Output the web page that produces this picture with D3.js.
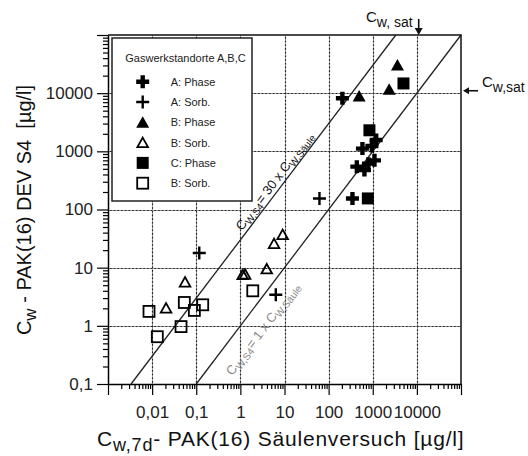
<!DOCTYPE html>
<html><head><meta charset="utf-8">
<script src="https://cdn.jsdelivr.net/npm/d3@7"></script>
<style>
body{margin:0;background:#fff;}
svg{display:block;font-family:"Liberation Sans",Arial,Helvetica,sans-serif;}
text{white-space:pre;}
</style>
</head><body><svg id="c" width="528" height="456"></svg>
<script>
// ---------- data ----------
const xTickValues = [0.01, 0.1, 1, 10, 100, 1000, 10000];
const xTickLabels = ["0,01", "0,1", "1", "10", "100", "1000", "10000"];
const yTickValues = [0.1, 1, 10, 100, 1000, 10000];
const yTickLabels = ["0,1", "1", "10", "100", "1000", "10000"];
const xGrid = [0.01, 0.1, 1, 10, 100, 1000, 10000];
const yGrid = [1, 10, 100, 1000, 10000];

const legendTitle = "Gaswerkstandorte A,B,C";
const seriesNames = ["A: Phase", "A: Sorb.", "B: Phase", "B: Sorb.", "C: Phase", "B: Sorb."];
const seriesShapes = ["crossBold", "crossThin", "triFilled", "triOpen", "sqFilled", "sqOpen"];

const aPhaseX = [205, 347, 1195, 955, 584, 1094, 798, 436, 648];
const aPhaseY = [8200, 155, 1566, 1234, 1114, 700, 614, 545, 476];
const aSorbX = [62, 0.117, 6.35];
const aSorbY = [155, 17.9, 3.42];
const bPhaseX = [492, 2355, 3630];
const bPhaseY = [8970, 11700, 30400];
const bSorbTriX = [0.0557, 0.0207, 1.13, 1.28, 3.96, 5.8, 9.1];
const bSorbTriY = [5.66, 2.02, 7.57, 7.7, 9.5, 25.9, 37];
const cPhaseX = [841, 774, 4970];
const cPhaseY = [2300, 155, 14700];
const bSorbSqX = [0.0085, 0.0537, 0.0906, 0.140, 0.0452, 0.0131, 1.91];
const bSorbSqY = [1.77, 2.52, 1.84, 2.30, 0.97, 0.65, 4.0];

const ratioFactors = [30, 1];
const cwSat = 11000;

// ---------- setup ----------
const svg = d3.select("#c");
const xs = d3.scaleLog().domain([1e-3, 1e5]).range([108, 461]);
const ys = d3.scaleLog().domain([0.1, 1e5]).range([384, 35]);

const seriesX = [aPhaseX, aSorbX, bPhaseX, bSorbTriX, cPhaseX, bSorbSqX];
const seriesY = [aPhaseY, aSorbY, bPhaseY, bSorbTriY, cPhaseY, bSorbSqY];

function drawShape(g, shape) {
  if (shape === "crossBold") {
    const a = 6.5, t = 2.2;
    g.append("path").attr("d", `M${-t},${-a}H${t}V${-t}H${a}V${t}H${t}V${a}H${-t}V${t}H${-a}V${-t}H${-t}Z`).attr("fill", "#000");
  } else if (shape === "crossThin") {
    g.append("path").attr("d", "M-6.5,0H6.5M0,-6.5V6.5").attr("stroke", "#000").attr("stroke-width", 2.4).attr("fill", "none");
  } else if (shape === "triFilled") {
    g.append("path").attr("d", "M0,-6L6.5,5.5H-6.5Z").attr("fill", "#000");
  } else if (shape === "triOpen") {
    g.append("path").attr("d", "M0,-5L5.3,4.5H-5.3Z").attr("fill", "none").attr("stroke", "#000").attr("stroke-width", 1.8);
  } else if (shape === "sqFilled") {
    g.append("rect").attr("x", -6).attr("y", -6).attr("width", 12).attr("height", 12).attr("fill", "#000");
  } else if (shape === "sqOpen") {
    g.append("rect").attr("x", -5.5).attr("y", -5.5).attr("width", 11).attr("height", 11).attr("fill", "none").attr("stroke", "#000").attr("stroke-width", 1.8);
  }
}

const [px0, px1] = xs.range();
const [py0, py1] = ys.range(); // bottom, top

// ---------- grid: faint solid base + dotted overlay ----------
const gridG = svg.append("g").attr("fill", "none");
const gxPos = xGrid.map(d => Math.round(xs(d)) + 0.5);
const gyPos = yGrid.map(d => Math.round(ys(d)) + 0.5);
gridG.selectAll("line.bx").data(gxPos).join("line").attr("class", "bx")
  .attr("x1", d => d).attr("x2", d => d).attr("y1", py0).attr("y2", py1)
  .attr("stroke", "#9a9a9a").attr("stroke-width", 1);
gridG.selectAll("line.by").data(gyPos).join("line").attr("class", "by")
  .attr("y1", d => d).attr("y2", d => d).attr("x1", px0).attr("x2", px1)
  .attr("stroke", "#9a9a9a").attr("stroke-width", 1);
function dottedV(gx) {
  let d = "";
  for (let p = py1 + 2; p < py0 - 1.5; p += 3.7) d += `M${gx},${p.toFixed(2)}v1.6`;
  return d;
}
function dottedH(gy) {
  let d = "";
  for (let p = px0 + 2; p < px1 - 1.5; p += 3.7) d += `M${p.toFixed(2)},${gy}h1.6`;
  return d;
}
gridG.selectAll("path.dx").data(gxPos).join("path").attr("class", "dx")
  .attr("d", dottedV).attr("stroke", "#222").attr("stroke-width", 1.2);
gridG.selectAll("path.dy").data(gyPos).join("path").attr("class", "dy")
  .attr("d", dottedH).attr("stroke", "#222").attr("stroke-width", 1.2);

// ---------- ratio lines ----------
const lineG = svg.append("g");
ratioFactors.forEach(f => {
  const x0 = Math.max(xs.domain()[0], ys.domain()[0] / f);
  const x1 = Math.min(xs.domain()[1], ys.domain()[1] / f);
  lineG.append("line")
    .attr("x1", xs(x0)).attr("y1", ys(x0 * f))
    .attr("x2", xs(x1)).attr("y2", ys(x1 * f))
    .attr("stroke", "#222").attr("stroke-width", 1.3);
});

const angle = Math.atan2(ys(1) - ys(10), xs(10) - xs(1)) * 180 / Math.PI;
function lineLabel(f, xv, dy, color, num) {
  const t = svg.append("text")
    .attr("transform", `translate(${xs(xv)},${ys(xv * f)}) rotate(${-angle})`)
    .attr("text-anchor", "middle").attr("dy", dy)
    .attr("font-size", 13).attr("fill", color);
  t.append("tspan").text("C");
  t.append("tspan").attr("font-size", 10).attr("dy", 3).text("W,S4");
  t.append("tspan").attr("dy", -3).text("= " + num + " x C");
  t.append("tspan").attr("font-size", 10).attr("dy", 3).text("W,Säule");
}
lineLabel(30, 8.4, -4, "#111", "30");
lineLabel(1, 1.42, 24, "#888", "1");

// ---------- legend ----------
const lg = svg.append("g");
lg.append("rect").attr("x", 112).attr("y", 38).attr("width", 140).attr("height", 163)
  .attr("fill", "#fff").attr("stroke", "#222").attr("stroke-width", 1.5);
lg.append("text").attr("x", 185.5).attr("y", 62).attr("text-anchor", "middle")
  .attr("font-size", 11).attr("fill", "#222").text(legendTitle);
seriesNames.forEach((n, i) => {
  const cy = 81.7 + i * 20.3;
  const g = lg.append("g").attr("transform", `translate(142.7,${cy})`);
  drawShape(g, seriesShapes[i]);
  lg.append("text").attr("x", 170.7).attr("y", cy).attr("dy", "0.36em")
    .attr("font-size", 11).attr("fill", "#222").text(n);
});

// ---------- points ----------
seriesX.forEach((xArr, i) => {
  xArr.forEach((xv, j) => {
    const g = svg.append("g").attr("transform", `translate(${xs(xv)},${ys(seriesY[i][j])})`);
    drawShape(g, seriesShapes[i]);
  });
});

// ---------- axes ----------
function minors(lo, hi) {
  const out = [];
  for (let d = lo; d < hi * 0.999; d *= 10) for (let k = 2; k <= 9; k++) out.push(k * d);
  return out;
}
const xMajors = [1e-3].concat(xTickValues, [1e5]);
const yMajors = yTickValues.concat([1e5]);
const xLab = v => { const i = xTickValues.indexOf(v); return i >= 0 ? xTickLabels[i] : ""; };
const yLab = v => { const i = yTickValues.indexOf(v); return i >= 0 ? yTickLabels[i] : ""; };

const axG = svg.append("g");
axG.append("g").attr("transform", `translate(0,${py0})`)
  .call(d3.axisBottom(xs).tickValues(minors(1e-3, 1e5)).tickSize(5).tickSizeOuter(0).tickFormat(""))
  .call(g => g.select(".domain").remove());
axG.append("g").attr("transform", `translate(0,${py0})`)
  .call(d3.axisBottom(xs).tickValues(xMajors).tickSize(11).tickSizeOuter(0).tickPadding(11).tickFormat(xLab))
  .call(g => g.select(".domain").attr("stroke-width", 1.5));
axG.append("g").attr("transform", `translate(${px0},0)`)
  .call(d3.axisLeft(ys).tickValues(minors(0.1, 1e5)).tickSize(5).tickSizeOuter(0).tickFormat(""))
  .call(g => g.select(".domain").remove());
axG.append("g").attr("transform", `translate(${px0},0)`)
  .call(d3.axisLeft(ys).tickValues(yMajors).tickSize(11).tickSizeOuter(0).tickPadding(4).tickFormat(yLab))
  .call(g => g.select(".domain").attr("stroke-width", 1.5));
axG.selectAll("line").attr("stroke-width", 1.2);
axG.selectAll("g").attr("font-family", null);
axG.selectAll("text").attr("font-size", 17).attr("fill", "#222");

// frame top & right
svg.append("path")
  .attr("d", `M${px0},${py1}H${px1}V${py0}`)
  .attr("fill", "none").attr("stroke", "#111").attr("stroke-width", 1.5);

// ---------- axis titles ----------
const yt = svg.append("text").attr("transform", "translate(31,210) rotate(-90)")
  .attr("text-anchor", "middle").attr("font-size", 20).attr("fill", "#111");
yt.append("tspan").text("C");
yt.append("tspan").attr("font-size", 17).attr("dy", 5).text("w");
yt.append("tspan").attr("dy", -5).text(" - PAK(16) DEV S4  [µg/l]");

const xt = svg.append("text").attr("x", 97).attr("y", 446)
  .attr("font-size", 21).attr("fill", "#111").attr("letter-spacing", 0.8);
xt.append("tspan").text("C");
xt.append("tspan").attr("font-size", 18).attr("dy", 5).text("w,7d");
xt.append("tspan").attr("dy", -5).text("- PAK(16) Säulenversuch [µg/l]");

// ---------- saturation annotations ----------
const ax = xs(cwSat);
svg.append("line").attr("x1", ax).attr("x2", ax).attr("y1", 19).attr("y2", 29).attr("stroke", "#111").attr("stroke-width", 1.6);
svg.append("path").attr("d", `M${ax - 4},28L${ax + 4},28L${ax},${py1}Z`).attr("fill", "#111");
const t1 = svg.append("text").attr("x", 366).attr("y", 22).attr("font-size", 15).attr("fill", "#111");
t1.append("tspan").text("C");
t1.append("tspan").attr("font-size", 14).attr("dy", 5).text("w, sat");

const ay = ys(cwSat);
svg.append("path").attr("d", `M${px1 + 2},${ay}L${px1 + 8},${ay - 3.5}L${px1 + 8},${ay + 3.5}Z`).attr("fill", "#111");
svg.append("line").attr("x1", px1 + 7).attr("x2", px1 + 17).attr("y1", ay).attr("y2", ay).attr("stroke", "#111").attr("stroke-width", 1.6);
const t2 = svg.append("text").attr("x", 482).attr("y", 87).attr("font-size", 15).attr("fill", "#111");
t2.append("tspan").text("C");
t2.append("tspan").attr("font-size", 14).attr("dy", 5).text("w,sat");
</script>
</body></html>
